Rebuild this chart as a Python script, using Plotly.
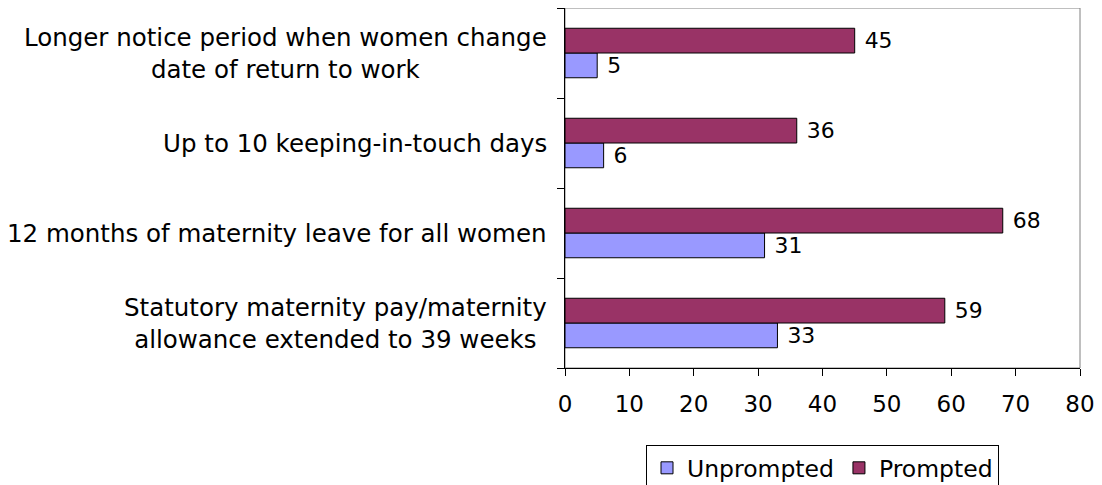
import plotly.graph_objects as go

categories = [
    "Longer notice period when women change<br>date of return to work",
    "Up to 10 keeping-in-touch days",
    "12 months of maternity leave for all women",
    "Statutory maternity pay/maternity<br>allowance extended to 39 weeks",
]
unprompted = [5, 6, 31, 33]
prompted = [45, 36, 68, 59]
x_ticks = [0, 10, 20, 30, 40, 50, 60, 70, 80]

FONT = "DejaVu Sans"
order = list(reversed(categories))

fig = go.Figure()
fig.add_trace(go.Bar(
    name="Unprompted", y=categories, x=unprompted, orientation="h",
    marker=dict(color="#9999FF", line=dict(color="#000000", width=1)),
    text=unprompted, texttemplate=" %{x}", textposition="outside", cliponaxis=False,
    textfont=dict(family=FONT, size=23, color="#000000"),
))
fig.add_trace(go.Bar(
    name="Prompted", y=categories, x=prompted, orientation="h",
    marker=dict(color="#993366", line=dict(color="#000000", width=1)),
    text=prompted, texttemplate=" %{x}", textposition="outside", cliponaxis=False,
    textfont=dict(family=FONT, size=23, color="#000000"),
))

for c in categories:
    fig.add_annotation(
        x=0, xref="paper", y=c, yref="y", text=c, showarrow=False,
        xanchor="right", yanchor="middle", align="center", xshift=-16,
        font=dict(family=FONT, size=24.5, color="#000000"),
    )

fig.add_shape(type="rect", xref="paper", yref="paper", x0=0, x1=1, y0=0, y1=1,
              line=dict(color="#808080", width=1), layer="below")

fig.update_layout(
    width=1094, height=477,
    margin=dict(l=557, r=22, t=0, b=117, autoexpand=False),
    paper_bgcolor="white", plot_bgcolor="white",
    barmode="group", bargap=0.45, bargroupgap=0,
    font=dict(family=FONT, size=23, color="#000000"),
    showlegend=True,
    legend=dict(
        orientation="h", x=0.5, xanchor="center", y=-0.214, yanchor="top",
        bordercolor="#000000", borderwidth=1,
        font=dict(family=FONT, size=23.5, color="#000000"),
        traceorder="normal",
    ),
    xaxis=dict(
        range=[0, 80], tickvals=x_ticks, ticks="outside", ticklen=7,
        tickcolor="#000000", showline=True, linecolor="#000000", linewidth=1,
        showgrid=False, zeroline=False, ticklabelstandoff=8,
        tickfont=dict(family=FONT, size=23, color="#000000"),
    ),
    yaxis=dict(
        categoryorder="array", categoryarray=order,
        ticks="outside", ticklen=7, tickcolor="#000000", tickson="boundaries",
        showline=True, linecolor="#000000", linewidth=1, showticklabels=False,
        showgrid=False, zeroline=False,
    ),
)

fig.write_html("out.html")
